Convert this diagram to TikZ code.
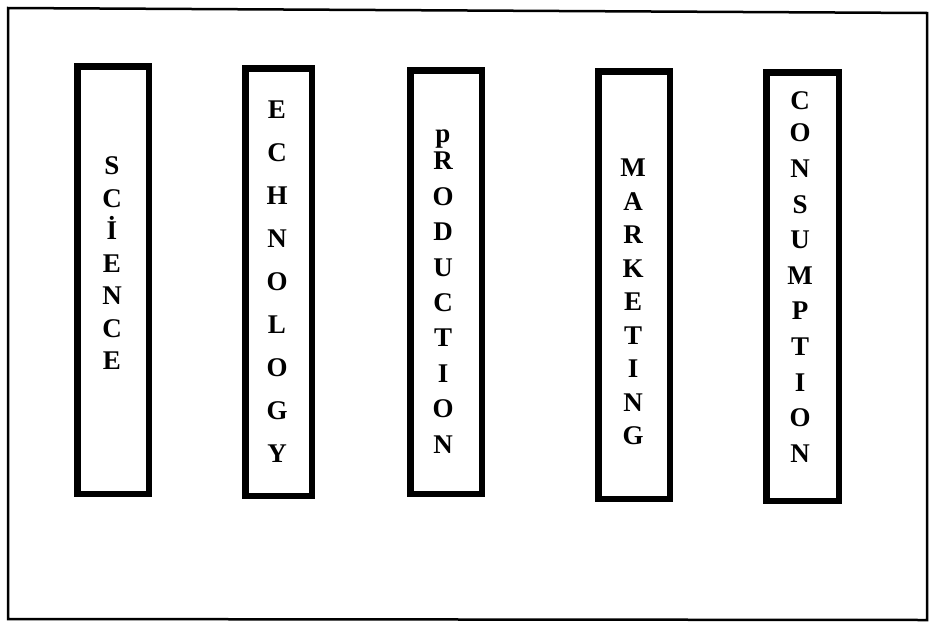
\documentclass[tikz,border=0pt]{standalone}
\usepackage{fontspec}
\setmainfont{Liberation Serif}
\tikzset{
  frameline/.style={line width=2.5pt, line join=miter},
  colbox/.style={draw, line width=6.5pt, rectangle, inner sep=0pt, fill=white},
  letter/.style={inner sep=0pt, text height=17.9pt, text depth=0pt, anchor=center,
    font=\bfseries\fontsize{27}{30}\selectfont}
}
\begin{document}
\begin{tikzpicture}[x=1pt,y=-1pt]
\useasboundingbox (0,0) rectangle (931,624);
% outer frame
\draw[frameline] (8,8) -- (927,13) -- (927,620) -- (8,619) -- cycle;
% column boxes
\node[colbox, minimum width=71.5pt, minimum height=427.5pt] (sci) at (113,280) {};
\node[colbox, minimum width=66.5pt, minimum height=427.5pt] (tec) at (278.5,282) {};
\node[colbox, minimum width=71.5pt, minimum height=423.5pt] (pro) at (446,282) {};
\node[colbox, minimum width=71.5pt, minimum height=427.5pt] (mar) at (634,285) {};
\node[colbox, minimum width=72.5pt, minimum height=428.5pt] (con) at (802.5,286.5) {};
% letters
\foreach \ch [count=\i from 0] in {S,C,İ,E,N,C,E}
  \node[letter] (sci-\i) at (112,166+32.5*\i) {\ch};
\foreach \ch [count=\i from 0] in {E,C,H,N,O,L,O,G,Y}
  \node[letter] (tec-\i) at (277,110+42.9*\i) {\ch};
\node[inner sep=0pt, anchor=base, font=\bfseries\fontsize{27}{30}\selectfont] (pro-p) at (443,142) {p};
\foreach \ch [count=\i from 0] in {R,O,D,U,C,T,I,O,N}
  \node[letter] (pro-\i) at (443,161+35.4*\i) {\ch};
\foreach \ch [count=\i from 0] in {M,A,R,K,E,T,I,N,G}
  \node[letter] (mar-\i) at (633,168+33.5*\i) {\ch};
\node[letter] (con-c) at (800,101) {C};
\foreach \ch [count=\i from 0] in {O,N,S,U,M,P,T,I,O,N}
  \node[letter] (con-\i) at (800,133+35.6*\i) {\ch};
\end{tikzpicture}
\end{document}
